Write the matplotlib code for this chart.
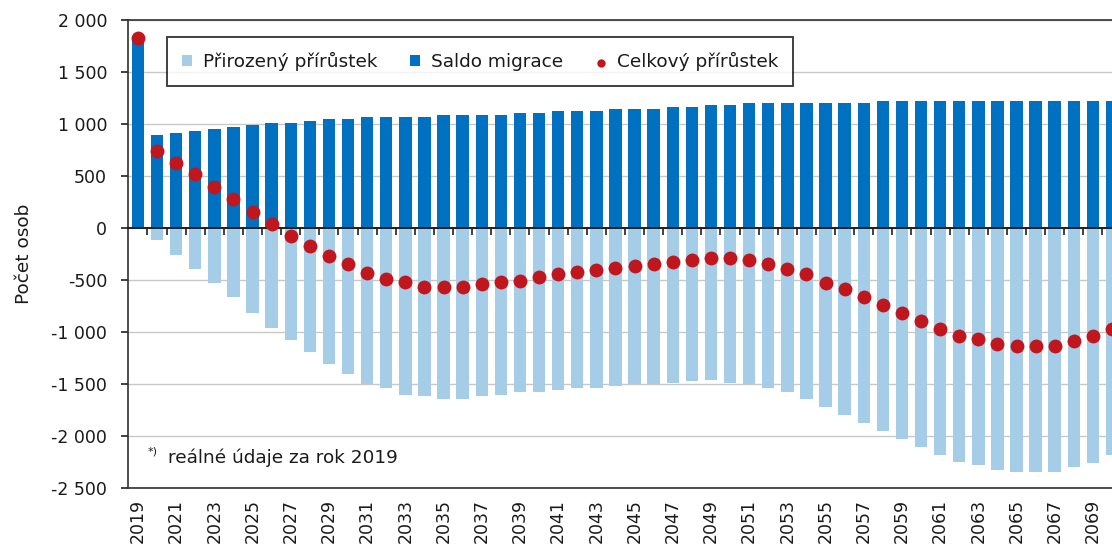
import numpy as np
import matplotlib
matplotlib.use("Agg")
import matplotlib.pyplot as plt
from matplotlib.ticker import FixedLocator, FuncFormatter

years = list(range(2019, 2071))

saldo_migrace = [1840, 894, 912, 933, 952, 971, 990, 1006, 1006, 1029,
                 1048, 1048, 1070, 1070, 1070, 1070, 1090, 1090, 1090, 1090,
                 1109, 1109, 1128, 1128, 1128, 1147, 1147, 1147, 1167, 1167,
                 1186, 1186, 1205, 1205, 1205, 1205, 1205, 1205, 1205, 1224,
                 1224, 1224, 1224, 1224, 1224, 1224, 1224, 1224, 1224, 1224,
                 1224, 1224]

prirozeny = [0, -120, -257, -393, -529, -666, -822, -961, -1075, -1192,
             -1309, -1406, -1497, -1539, -1601, -1620, -1643, -1643, -1620, -1601,
             -1581, -1581, -1562, -1542, -1542, -1523, -1503, -1500, -1494, -1468,
             -1465, -1493, -1498, -1542, -1581, -1640, -1718, -1796, -1873, -1951,
             -2028, -2107, -2185, -2247, -2283, -2325, -2344, -2344, -2344, -2302,
             -2263, -2182]

celkovy = [1830, 744, 628, 516, 397, 282, 154, 37, -78, -175,
           -273, -347, -429, -490, -523, -571, -571, -571, -542, -523,
           -507, -468, -445, -425, -403, -386, -370, -344, -328, -312,
           -292, -292, -312, -347, -391, -445, -526, -588, -664, -738,
           -815, -896, -974, -1036, -1072, -1117, -1133, -1133, -1133, -1091,
           -1036, -971]

y_ticks = [-2500, -2000, -1500, -1000, -500, 0, 500, 1000, 1500, 2000]
x_label_years = list(range(2019, 2071, 2))

series_names = ["Přirozený přírůstek", "Saldo migrace", "Celkový přírůstek"]
y_title = "Počet osob"
footnote = "reálné údaje za rok 2019"

C_LIGHT = "#a6cde8"
C_DARK = "#0070c0"
C_RED = "#c0161e"
TXT = "#1a1a1a"
FS = 12.5
FS2 = 13.3

plt.rcParams['font.family'] = ['DejaVu Sans']

fig = plt.figure(figsize=(11.12, 5.46), dpi=100)
ax = fig.add_axes([128/1112, 1-488/546, 1-128/1112, (488-20)/546])

x = np.array(years)
b1 = ax.bar(x, prirozeny, width=0.65, color=C_LIGHT, zorder=2, label=series_names[0])
b2 = ax.bar(x, saldo_migrace, width=0.65, color=C_DARK, zorder=2, label=series_names[1])
sc = ax.scatter(x, celkovy, s=100, color=C_RED, zorder=4, linewidths=0, label=series_names[2])

ylo, yhi = -2500, 2000
ax.set_ylim(ylo, yhi)
ax.set_xlim(2018.48, 2070.0)

ax.yaxis.set_major_locator(FixedLocator(y_ticks))
ax.yaxis.set_major_formatter(FuncFormatter(lambda v, p: f"{int(v):,}".replace(",", " ")))
ax.grid(axis='y', color='#c8c8c8', linewidth=1.0, zorder=0)
ax.set_axisbelow(True)

ax.tick_params(axis='y', direction='out', length=5, width=1.2, color='#202020',
               labelsize=FS, labelcolor=TXT, pad=10)
ax.set_xticks(x_label_years)
ax.set_xticklabels([str(y) for y in x_label_years], rotation=90)
ax.tick_params(axis='x', length=0, labelsize=FS, labelcolor=TXT, pad=8)

for s in ['top', 'left', 'bottom']:
    ax.spines[s].set_color('#303030')
    ax.spines[s].set_linewidth(1.2)
ax.spines['right'].set_visible(False)

# zero line with category-boundary ticks (pointing down)
frac0 = (0 - ylo) / (yhi - ylo)
sec = ax.secondary_xaxis(frac0)
sec.set_xticks(np.arange(2019.5, 2070.5, 1.0))
sec.tick_params(axis='x', direction='in', length=5, width=1.2, color='#202020',
                labelbottom=False, labeltop=False)
for s in sec.spines.values():
    s.set_color('#202020')
    s.set_linewidth(1.4)
sec.set_zorder(3)

ax.set_ylabel(y_title, fontsize=FS2, color=TXT, labelpad=13)

leg = ax.legend(handles=[b1, b2, sc], loc='upper left',
                bbox_to_anchor=((167-128)/984, (488-37)/468),
                ncol=3, fontsize=FS2, frameon=True, fancybox=False,
                handlelength=0.55, handleheight=0.55, handletextpad=0.6,
                columnspacing=1.75, markerscale=0.6, borderpad=0.8,
                borderaxespad=0)
leg.get_frame().set_edgecolor('#101010')
leg.get_frame().set_linewidth(1.4)
for t in leg.get_texts():
    t.set_color(TXT)

ax.text(0.0203, 0.068, "*)", transform=ax.transAxes, fontsize=8, color=TXT,
        va='bottom', ha='left')
ax.text(0.0405, 0.064, footnote, transform=ax.transAxes, fontsize=FS2, color=TXT,
        va='center', ha='left')

fig.savefig("out.png", dpi=100)
